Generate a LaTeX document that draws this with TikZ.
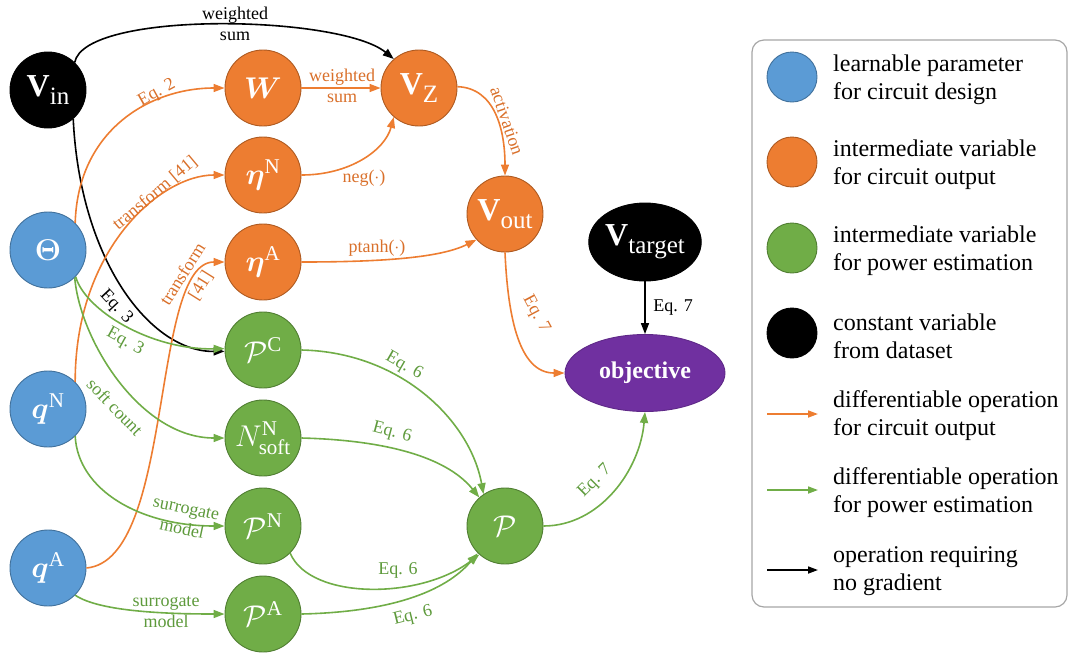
\RequirePackage{fix-cm}
\documentclass[tikz,border=0pt]{standalone}
\usepackage{amsmath}
\usepackage{fontspec}
\setmainfont{Liberation Serif}
\usetikzlibrary{arrows.meta,shapes.geometric}

\definecolor{pblue}{HTML}{5B9BD5}
\definecolor{pblueline}{HTML}{41719C}
\definecolor{porange}{HTML}{ED7D31}
\definecolor{porangeline}{HTML}{AE5A21}
\definecolor{pgreen}{HTML}{70AD47}
\definecolor{pgreenline}{HTML}{507E32}
\definecolor{ppurple}{HTML}{7030A0}
\definecolor{olabel}{HTML}{D9702B}
\definecolor{glabel}{HTML}{5E9A3C}
\definecolor{legendline}{HTML}{A6A6A6}

% bold V with a lowered roman subscript
\newcommand\vlabel[1]{{\fontsize{32}{32}\selectfont\textbf{V}}\raisebox{-8pt}{\fontsize{25}{25}\selectfont #1}}
% math symbol at node size
\newcommand\mlabel[1]{{\fontsize{30}{30}\selectfont$#1$}}

\begin{document}
\begin{tikzpicture}[x=1pt,y=-1pt,
  var/.style={circle, minimum size=76pt, inner sep=0pt, line width=0.9pt, text=white},
  vlearn/.style={var, fill=pblue, draw=pblueline},
  vcirc/.style={var, fill=porange, draw=porangeline},
  vpower/.style={var, fill=pgreen, draw=pgreenline},
  vconst/.style={var, fill=black, draw=black},
  headtip/.style={-{Triangle[length=11pt,width=8pt]}},
  oarr/.style={draw=porange, line width=1.6pt, headtip},
  garr/.style={draw=pgreen, line width=1.6pt, headtip},
  karr/.style={draw=black, line width=1.6pt, headtip},
  elab/.style={font=\fontsize{18}{21}\selectfont, inner sep=0pt, align=center},
  olab/.style={elab, text=olabel},
  glab/.style={elab, text=glabel},
  klab/.style={elab, text=black},
  legdot/.style={circle, minimum size=50pt, inner sep=0pt, line width=0.9pt},
  legtext/.style={font=\fontsize{24}{28}\selectfont, align=left, anchor=west, inner sep=0pt},
  legarr/.style={line width=1.6pt, -{Triangle[length=10pt,width=7pt]}}
]
\useasboundingbox (0,0) rectangle (1071,657);

% ---------- variables ----------
\node[vconst] (vin) at (48,90) {\vlabel{in}};
\node[vlearn] (theta) at (48,250) {\mlabel{\boldsymbol{\Theta}}};
\node[vlearn] (qN) at (48,409) {\mlabel{\boldsymbol{q}^{\text{N}}}};
\node[vlearn] (qA) at (48,568) {\mlabel{\boldsymbol{q}^{\text{A}}}};

\node[vcirc] (W) at (263,88) {\mlabel{\boldsymbol{W}}};
\node[vcirc] (etaN) at (263,175) {\mlabel{\boldsymbol{\eta}^{\text{N}}}};
\node[vcirc] (etaA) at (263,262) {\mlabel{\boldsymbol{\eta}^{\text{A}}}};
\node[vpower] (PC) at (263,350) {\mlabel{\mathcal{P}^{\text{C}}}};
\node[vpower] (Nsoft) at (263,438) {\mlabel{N^{\text{N}}_{\text{soft}}}};
\node[vpower] (PN) at (263,526) {\mlabel{\mathcal{P}^{\text{N}}}};
\node[vpower] (PA) at (263,614) {\mlabel{\mathcal{P}^{\text{A}}}};

\node[vcirc] (vz) at (419,88) {\vlabel{Z}};
\node[vcirc] (vout) at (505,214) {\vlabel{out}};
\node[vpower] (P) at (505,526) {\mlabel{\mathcal{P}}};

\node[vconst, ellipse, minimum width=96pt, minimum height=78pt] (vtarget) at (645,242) {\vlabel{target}};
\node[ellipse, fill=ppurple, draw=ppurple!85!black, line width=0.9pt, minimum width=160pt,
      minimum height=77pt, text=white, font=\fontsize{24}{24}\selectfont\bfseries] (obj) at (645,373) {objective};

% ---------- operations without gradient ----------
\draw[karr] (vin.46) .. controls (85,10) and (340,15) .. (vz.131)
  node[klab] at (235,24) {weighted\\sum};
\draw[karr] (vin.-49) .. controls (80,260) and (150,352) .. (PC.182)
  node[klab, rotate=-47] at (116,307) {Eq. 3};
\draw[karr] (vtarget) -- (obj)
  node[klab] at (673,308) {Eq. 7};

% ---------- circuit output ----------
\draw[oarr] (theta.45) .. controls (78,130) and (150,88) .. (W.180)
  node[olab, rotate=29] at (157,93) {Eq. 2};
\draw[oarr] (qN.45) .. controls (75,250) and (160,175) .. (etaN.180)
  node[olab, rotate=40] at (155,193) {transform [41]};
\draw[oarr] (qA.0) .. controls (175,560) and (150,262) .. (etaA.180)
  node[olab, rotate=58] at (192,280) {transform\\{}[41]};
\draw[oarr] (W) -- (vz)
  node[olab] at (342,86) {weighted\\sum};
\draw[oarr] (etaN.0) .. controls (350,175) and (385,150) .. (vz.229)
  node[olab] at (364,178) {neg($\cdot$)};
\draw[oarr] (vz.2) .. controls (495,88) and (505,130) .. (vout.90)
  node[olab, rotate=-71] at (507,121) {activation};
\draw[oarr] (etaA.0) .. controls (380,262) and (440,258) .. (vout.222)
  node[olab] at (377,248) {ptanh($\cdot$)};
\draw[oarr] (vout.270) .. controls (508,320) and (520,373) .. (obj.180)
  node[olab, rotate=-62] at (536,314) {Eq. 7};

% ---------- power estimation ----------
\draw[garr] (theta.-44) .. controls (85,310) and (150,350) .. (PC.178)
  node[glab, rotate=-29] at (125,342) {Eq. 3};
\draw[garr] (theta.-46) .. controls (80,340) and (140,438) .. (Nsoft.180)
  node[glab, rotate=-46] at (115,407) {soft count};
\draw[garr] (qN.-45) .. controls (78,490) and (140,526) .. (PN.180)
  node[glab, rotate=-12] at (184,519) {surrogate\\model};
\draw[garr] (qA.-45) .. controls (100,612) and (170,614) .. (PA.180)
  node[glab] at (166,612) {surrogate\\model};
\draw[garr] (PC.0) .. controls (400,352) and (470,420) .. (P.124)
  node[glab, rotate=-30] at (404,366) {Eq. 6};
\draw[garr] (Nsoft.0) .. controls (380,440) and (445,455) .. (P.132)
  node[glab, rotate=-15] at (392,433) {Eq. 6};
\draw[garr] (PN.-45) .. controls (310,600) and (420,600) .. (P.228)
  node[glab] at (398,570) {Eq. 6};
\draw[garr] (PA.0) .. controls (390,612) and (445,592) .. (P.225)
  node[glab, rotate=14] at (413,616) {Eq. 6};
\draw[garr] (P.0) .. controls (600,526) and (640,470) .. (obj.270)
  node[glab, rotate=45] at (595,481) {Eq. 7};

% ---------- legend ----------
\draw[legendline, line width=1.2pt, rounded corners=12pt] (752,40) rectangle (1067,607);
\node[legdot, fill=pblue, draw=pblueline] (lg1) at (792,77) {};
\node[legtext] (lt1) at (833,80) {learnable parameter\\for circuit design};
\node[legdot, fill=porange, draw=porangeline] (lg2) at (792,162) {};
\node[legtext] (lt2) at (833,165) {intermediate variable\\for circuit output};
\node[legdot, fill=pgreen, draw=pgreenline] (lg3) at (792,248) {};
\node[legtext] (lt3) at (833,251) {intermediate variable\\for power estimation};
\node[legdot, fill=black, draw=black] (lg4) at (792,333) {};
\node[legtext] (lt4) at (833,336) {constant variable\\from dataset};

\coordinate (la1) at (767,414); \coordinate (lb1) at (818,414);
\coordinate (la2) at (767,490); \coordinate (lb2) at (818,490);
\coordinate (la3) at (767,570); \coordinate (lb3) at (818,570);
\draw[legarr, draw=porange] (la1) -- (lb1);
\draw[legarr, draw=pgreen] (la2) -- (lb2);
\draw[legarr, draw=black] (la3) -- (lb3);
\node[legtext] (lt5) at (833,416) {differentiable operation\\for circuit output};
\node[legtext] (lt6) at (833,493) {differentiable operation\\for power estimation};
\node[legtext] (lt7) at (833,571) {operation requiring\\no gradient};
\end{tikzpicture}
\end{document}
